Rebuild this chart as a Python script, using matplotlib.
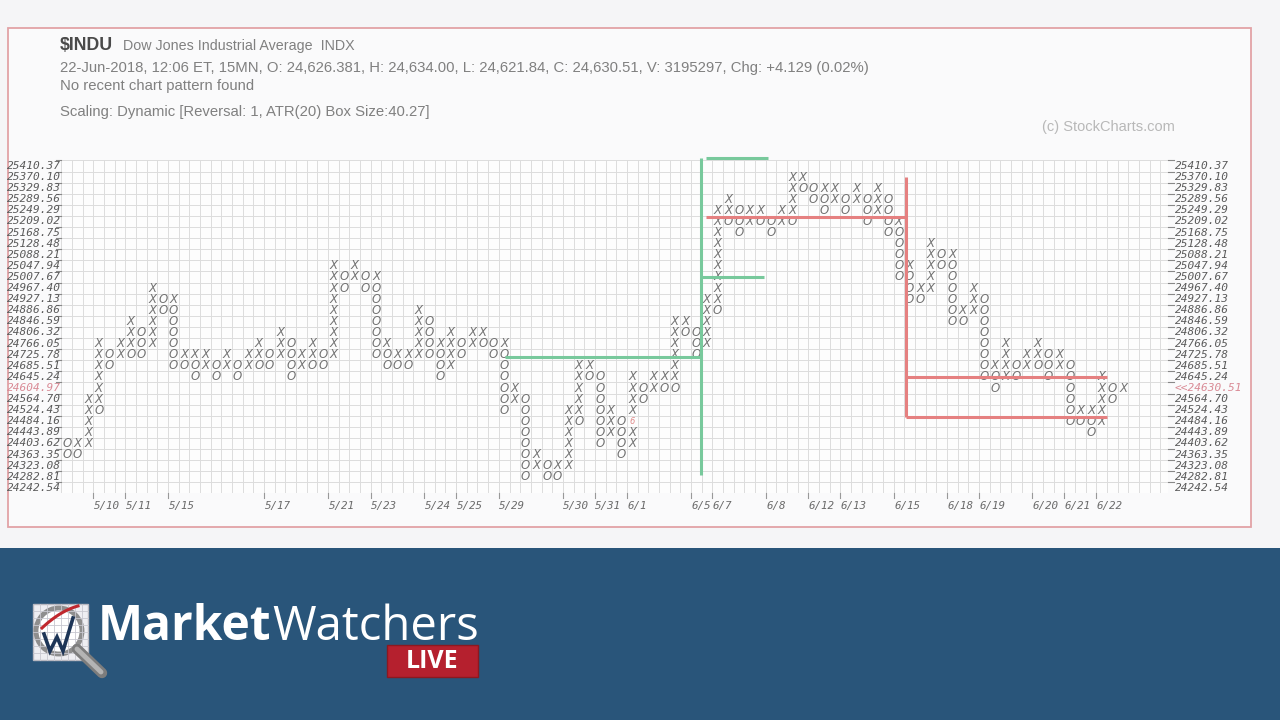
import matplotlib
matplotlib.use('Agg')
import matplotlib.pyplot as plt
from matplotlib.patches import Rectangle, Circle
import numpy as np

# ── data ─────────────────────────────────────────────────────────────────────
ticker = "$INDU"
ticker_name = "Dow Jones Industrial Average  INDX"
quote_line = ("22-Jun-2018, 12:06 ET, 15MN, O: 24,626.381, H: 24,634.00, L: 24,621.84, "
              "C: 24,630.51, V: 3195297, Chg: +4.129 (0.02%)")
pattern_line = "No recent chart pattern found"
scaling_line = "Scaling: Dynamic [Reversal: 1, ATR(20) Box Size:40.27]"

# box labels, bottom box (0) to top box (29)
left_labels = ["24242.54", "24282.81", "24323.08", "24363.35", "24403.62", "24443.89",
               "24484.16", "24524.43", "24564.70", "24604.97", "24645.24", "24685.51",
               "24725.78", "24766.05", "24806.32", "24846.59", "24886.86", "24927.13",
               "24967.40", "25007.67", "25047.94", "25088.21", "25128.48", "25168.75",
               "25209.02", "25249.29", "25289.56", "25329.83", "25370.10", "25410.37"]
right_labels = list(left_labels)
right_labels[9] = "<<24630.51"
last_box = 9

# point & figure columns: (lowest box, marks from bottom to top); "6" = month marker
pf_columns = [
    (3, "OO"), (3, "OX"), (4, "XXXXX"), (7, "OXXXXXX"), (11, "OO"),
    (12, "XX"), (12, "OXXX"), (12, "OOO"), (13, "XXXXXX"), (16, "OO"),
    (11, "OOOOOOX"), (11, "OX"), (10, "OOX"), (11, "XX"), (10, "OO"),
    (11, "XX"), (10, "OO"), (11, "XX"), (11, "OXX"), (11, "OO"),
    (12, "XXX"), (10, "OOOO"), (11, "XX"), (11, "OXX"), (11, "OO"),
    (12, "XXXXXXXXX"), (18, "OO"), (19, "XX"), (18, "OO"), (12, "OOOOOOOX"),
    (11, "OOX"), (11, "OX"), (11, "OX"), (12, "XXXXX"), (12, "OOOO"),
    (10, "OOOX"), (11, "XXXX"), (12, "OO"), (13, "XX"), (13, "OX"),
    (12, "OO"), (7, "OOOOOOX"), (8, "XX"), (1, "OOOOOOOO"), (2, "XX"),
    (1, "OO"), (1, "OX"), (2, "XXXXXX"), (6, "OXXXXX"), (10, "OX"),
    (4, "OOOOOOO"), (5, "XXX"), (3, "OOOO"), (4, "XX6XXXX"), (8, "OO"),
    (9, "XX"), (9, "OX"), (9, "OXXXXXX"), (14, "OX"), (12, "OOO"),
    (13, "XXXXX"), (16, "OXXXXXXXXX"), (24, "OXX"), (23, "OOO"), (24, "XX"),
    (24, "OX"), (23, "OO"), (24, "XX"), (24, "OXXXX"), (27, "OX"),
    (26, "OO"), (25, "OOX"), (26, "XX"), (25, "OO"), (26, "XX"),
    (24, "OOO"), (25, "XXX"), (23, "OOOO"), (19, "OOOOOX"), (17, "OOOX"),
    (17, "OX"), (18, "XXXXX"), (20, "OO"), (15, "OOOOOOX"), (15, "OX"),
    (16, "XXX"), (10, "OOOOOOOO"), (9, "OOX"), (10, "XXXX"), (10, "OO"),
    (11, "XX"), (11, "OXX"), (10, "OOO"), (11, "XX"), (6, "OOOOOO"),
    (6, "OX"), (5, "OOX"), (6, "XXXXX"), (8, "OO"), (9, "X"),
]

date_labels = ["5/10", "5/11", "5/15", "5/17", "5/21", "5/23", "5/24", "5/25", "5/29",
               "5/30", "5/31", "6/1", "6/5", "6/7", "6/8", "6/12", "6/13", "6/15",
               "6/18", "6/19", "6/20", "6/21", "6/22"]
date_cols = [3, 6, 10, 19, 25, 29, 34, 37, 41, 47, 50, 53, 59, 61, 66, 70, 73, 78,
             83, 86, 91, 94, 97]

# hand drawn annotation lines, (column, box) end points
green_lines = [((41.1, 11.77), (59.35, 11.77)),
               ((59.45, 1.16), (59.45, 29.72)),
               ((59.92, 29.69), (65.73, 29.69)),
               ((59.45, 19.03), (65.35, 19.03))]
red_lines = [((59.92, 24.43), (78.66, 24.43)),
             ((78.66, 28.04), (78.66, 6.41)),
             ((78.66, 10.02), (97.47, 10.02)),
             ((78.66, 6.41), (97.5, 6.41))]

# ── figure ───────────────────────────────────────────────────────────────────
W, H = 1280, 720
fig = plt.figure(figsize=(12.8, 7.2), dpi=100, facecolor='#f5f5f7')
bg = fig.add_axes([0, 0, 1, 1])
bg.set_xlim(0, W)
bg.set_ylim(H, 0)
bg.axis('off')

bg.add_patch(Rectangle((8, 28), 1243, 499, facecolor='#fafafb', edgecolor='#e2a2a6', lw=1.3))
bg.add_patch(Rectangle((0, 548), W, 172, facecolor='#29557a', edgecolor='none'))

sans = ['Liberation Sans', 'DejaVu Sans']
bg.text(60, 46, ticker, family=sans, weight='bold', size=12.8, color='#4a4a4a', va='center')
bg.text(123, 46, ticker_name, family=sans, size=10.3, color='#808080', va='center')
bg.text(60, 68, quote_line, family=sans, size=10.7, color='#808080', va='center')
bg.text(60, 86, pattern_line, family=sans, size=10.7, color='#808080', va='center')
bg.text(60, 112, scaling_line, family=sans, size=10.7, color='#808080', va='center')
bg.text(1042, 127, "(c) StockCharts.com", family=sans, size=10.5, color='#b8b8b8', va='center')

# chart area, one data unit = one box
COL_W, ROW_H, X0, Y_TOP = 10.67, 11.1, 66.7, 166.0
xlim = (-0.5, 103.2)
ylim = (-0.5, 29.5)
lpx = X0 + xlim[0] * COL_W
rpx = X0 + xlim[1] * COL_W
tpx = Y_TOP - (ylim[1] - 29) * ROW_H
bpx = Y_TOP + (29 - ylim[0]) * ROW_H
ax = fig.add_axes([lpx / W, 1 - bpx / H, (rpx - lpx) / W, (bpx - tpx) / H])
ax.set_xlim(*xlim)
ax.set_ylim(*ylim)
ax.set_facecolor('#fdfdfd')
for s in ax.spines.values():
    s.set_visible(False)
ax.set_xticks([])
ax.set_yticks([])

for c in np.arange(-0.5, xlim[1], 1.0):
    ax.axvline(c, color='#dcdcdc', lw=0.7, zorder=1)
for r in np.arange(-0.5, 29.6, 1.0):
    ax.axhline(r, color='#dcdcdc', lw=0.7, zorder=1)

mono = 'DejaVu Sans Mono'
for r, lbl in enumerate(left_labels):
    col = '#d98a95' if r == last_box else '#5a5a5a'
    ax.text(-0.55, r, lbl, ha='right', va='center', family=mono, style='italic',
            size=8, color=col, clip_on=False)
    ax.plot([-1.0, -0.5], [r + 0.5] * 2, color='#888888', lw=0.8, clip_on=False)
for r, lbl in enumerate(right_labels):
    col = '#d98a95' if r == last_box else '#5a5a5a'
    ax.text(103.85, r, lbl, ha='left', va='center', family=mono, style='italic',
            size=8, color=col, clip_on=False)
    ax.plot([103.2, 103.75], [r + 0.5] * 2, color='#888888', lw=0.8, clip_on=False)

for c, lbl in zip(date_cols, date_labels):
    ax.plot([c - 0.5] * 2, [-0.5, -0.95], color='#999999', lw=0.8, clip_on=False)
    ax.text(c - 0.45, -1.6, lbl, ha='left', va='center', family=mono, style='italic',
            size=7.8, color='#6a6a6a', clip_on=False)

# X / O boxes
for c, (b, marks) in enumerate(pf_columns):
    for i, ch in enumerate(marks):
        r = b + i
        if ch == '6':
            ax.text(c, r, '6', ha='center', va='center', size=6, color='#e08a8a',
                    style='italic', zorder=3)
        else:
            ax.text(c, r, ch, ha='center', va='center', family='DejaVu Sans',
                    style='italic', size=8.5, color='#727272', zorder=3)

for (x1, y1), (x2, y2) in green_lines:
    ax.plot([x1, x2], [y1, y2], color='#78c99c', lw=2.2, solid_capstyle='butt',
            zorder=4, clip_on=False)
for (x1, y1), (x2, y2) in red_lines:
    ax.plot([x1, x2], [y1, y2], color='#e58080', lw=2.2, solid_capstyle='butt',
            zorder=4, clip_on=False)

# ── MarketWatchers LIVE banner logo ──────────────────────────────────────────
bg.add_patch(Rectangle((33, 604), 55, 56, facecolor='#eeeef2', edgecolor='#b8b8c0', lw=1))
for g in range(40, 88, 7):
    bg.plot([g, g], [604, 660], color='#c8c8d0', lw=0.6)
for g in range(611, 660, 7):
    bg.plot([33, 88], [g, g], color='#c8c8d0', lw=0.6)
bg.plot([77, 102], [649, 673], color='#7d7d7d', lw=7.5, solid_capstyle='round')
bg.plot([77, 101], [649, 672], color='#b4b4b4', lw=3.5, solid_capstyle='round')
bg.add_patch(Circle((59, 631), 23, facecolor='white', edgecolor='#8e8e8e', lw=3.5))
t = np.linspace(0, 1, 30)
bg.plot(42 + 36 * t, 628 - 22 * t - 12 * t * (1 - t), color='#c0282e', lw=2.2)
bg.plot([44, 50, 57, 63, 73], [634, 651, 637, 651, 618], color='#1d3557', lw=2.6,
        solid_joinstyle='miter')

tm = bg.text(98, 640, "Market", family=['Open Sans', 'DejaVu Sans'], weight='bold',
             size=34.5, color='white', va='baseline')
fig.canvas.draw()
ext = tm.get_window_extent()
bg.text(ext.x1 + 1, 640, "Watchers", family=['Open Sans', 'DejaVu Sans'], size=34,
        color='white', va='baseline')
bg.add_patch(Rectangle((387, 645), 91, 32, facecolor='#b5202e', edgecolor='#8c1820', lw=1))
bg.text(432.5, 662, "LIVE", family=['Open Sans', 'DejaVu Sans'], weight='bold', size=18,
        color='white', ha='center', va='center')

fig.savefig('out.png', dpi=100, facecolor=fig.get_facecolor())
